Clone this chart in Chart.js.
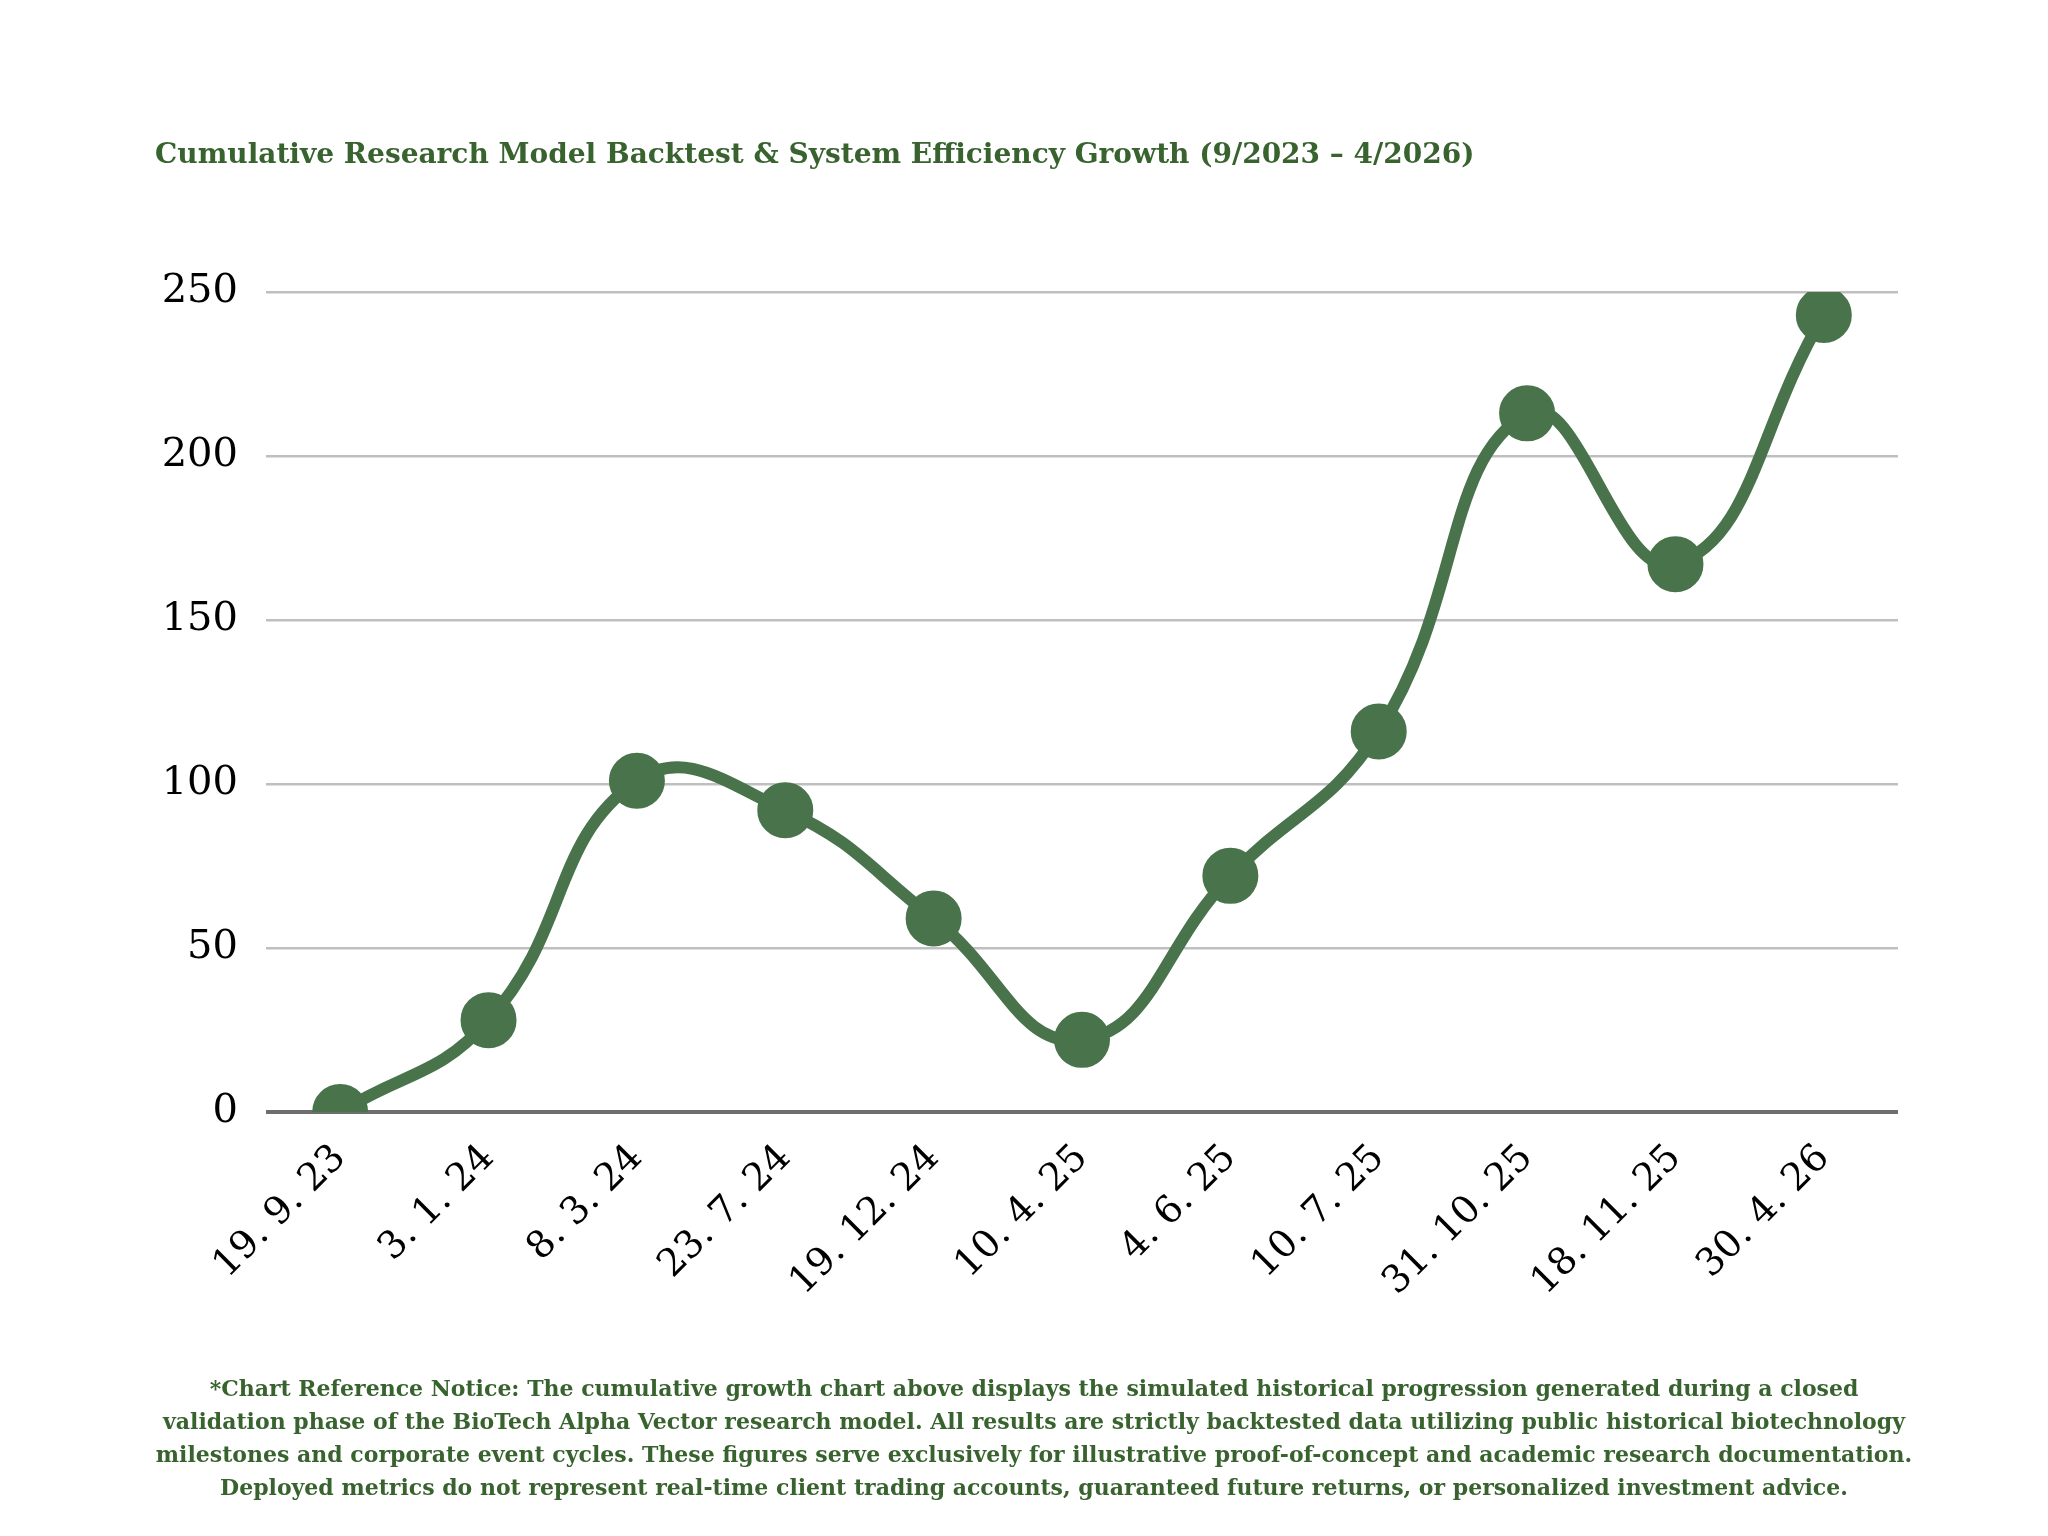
<!DOCTYPE html>
<html>
<head>
<meta charset="utf-8">
<script src="https://cdn.jsdelivr.net/npm/chart.js@4"></script>
<style>
  html, body { margin: 0; padding: 0; background: #fff; }
  #wrap { position: relative; width: 2048px; height: 1536px; }
  #chart { position: absolute; left: 0; top: 0; }
  .title { position: absolute; left: 155px; top: 137px; font: bold 28px "DejaVu Serif", serif; color: #38632f; white-space: nowrap; }
  .note { position: absolute; left: 0; width: 2068px; top: 1372px; text-align: center; font: bold 22px/33px "DejaVu Serif", serif; color: #38632f; }
</style>
</head>
<body>
<div id="wrap">
  <canvas id="chart" width="2048" height="1536"></canvas>
  <div class="title">Cumulative Research Model Backtest &amp; System Efficiency Growth (9/2023 – 4/2026)</div>
  <div class="note">*Chart Reference Notice: The cumulative growth chart above displays the simulated historical progression generated during a closed<br>validation phase of the BioTech Alpha Vector research model. All results are strictly backtested data utilizing public historical biotechnology<br>milestones and corporate event cycles. These figures serve exclusively for illustrative proof-of-concept and academic research documentation.<br>Deployed metrics do not represent real-time client trading accounts, guaranteed future returns, or personalized investment advice.</div>
</div>
<script>
'use strict';

const dates = ['19. 9. 23', '3. 1. 24', '8. 3. 24', '23. 7. 24', '19. 12. 24', '10. 4. 25',
  '4. 6. 25', '10. 7. 25', '31. 10. 25', '18. 11. 25', '30. 4. 26'];
const growth = [0, 28, 101, 92, 59, 22, 72, 116, 213, 167, 243];
const yTicks = [0, 50, 100, 150, 200, 250];

const green = '#48734b';

new Chart(document.getElementById('chart'), {
  type: 'line',
  data: {
    labels: dates,
    datasets: [{
      data: growth,
      borderColor: green,
      backgroundColor: green,
      borderWidth: 12,
      tension: 0.45,
      pointRadius: 22,
      pointBackgroundColor: green,
      pointBorderColor: green
    }]
  },
  options: {
    responsive: false,
    animation: false,
    layout: { padding: { top: 292, left: 100, right: 150, bottom: 216 } },
    plugins: { legend: { display: false }, tooltip: { enabled: false } },
    scales: {
      x: {
        offset: true,
        grid: { display: false },
        border: { display: false },
        afterFit: (s) => { s.height = 208; },
        ticks: {
          color: '#000', minRotation: 45, maxRotation: 45, padding: 16,
          font: { family: 'DejaVu Serif', size: 38 }
        }
      },
      y: {
        min: 0, max: 250,
        afterFit: (s) => { s.width = 166; },
        afterBuildTicks: (s) => { s.ticks = yTicks.map(v => ({ value: v })); },
        border: { display: false },
        grid: {
          color: (c) => c.tick.value === 0 ? '#6e6e6e' : '#bfbfbf',
          lineWidth: (c) => c.tick.value === 0 ? 4 : 2.5,
          drawTicks: false
        },
        ticks: {
          color: '#000', padding: 28,
          font: { family: 'DejaVu Serif', size: 40 }
        }
      }
    }
  }
});
</script>
</body>
</html>
